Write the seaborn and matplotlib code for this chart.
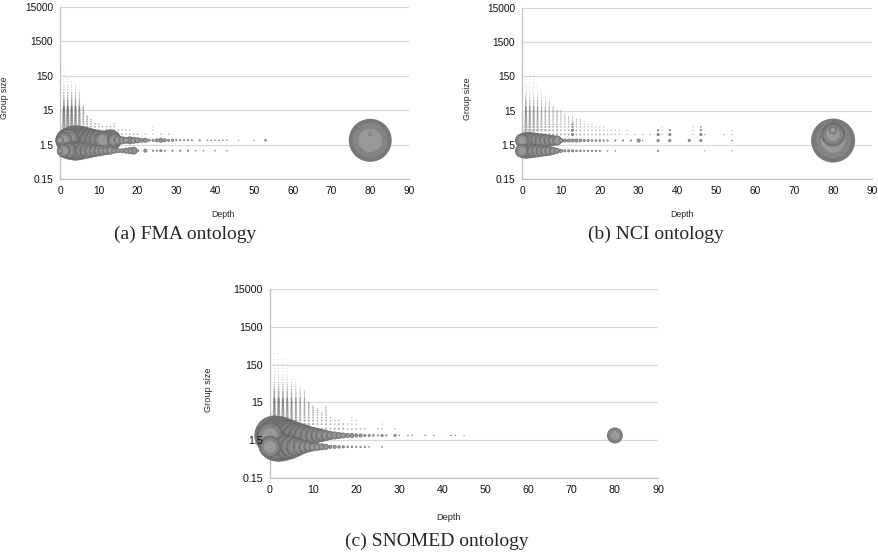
import numpy as np
import pandas as pd
import seaborn as sns
import matplotlib.pyplot as plt
from matplotlib.ticker import NullLocator

# =========================================
# DATA
# bubble area ~ number of groups
# =========================================

# ---- FMA ----
fma_row2_depth = [0, 1, 2, 3, 4, 5, 6, 7, 8, 9, 10, 11, 12, 13, 14, 15, 16, 17, 18, 19, 20, 21, 22, 23, 24,
                  25, 26, 27, 28, 29, 30, 31, 32, 33, 34, 36, 38, 39, 40, 41, 42, 43, 46, 50, 53, 80]
fma_row2_count = [64, 300, 600, 800, 900, 860, 760, 660, 560, 480, 420, 320, 400, 480, 200, 100, 64, 49, 64,
                  49, 36, 25, 25, 9, 9, 16, 25, 16, 9, 9, 4, 4, 4, 4, 4, 4, 2, 2, 2, 2, 2, 2, 1, 1, 6, 1850]
fma_row1_depth = [0, 1, 2, 3, 4, 5, 6, 7, 8, 9, 10, 11, 12, 13, 14, 15, 16, 17, 18, 19, 20, 22, 24, 25, 26,
                  27, 29, 31, 33, 35, 37, 40, 43]
fma_row1_count = [36, 200, 300, 360, 400, 360, 300, 250, 200, 160, 130, 100, 80, 64, 36, 25, 25, 36, 49, 64,
                  9, 16, 4, 4, 9, 4, 4, 4, 4, 2, 2, 2, 2]
fma_extra_depth = [80, 80]
fma_extra_size = [3, 4]
fma_extra_count = [16, 1]
fma_streak_depth = [0, 1, 2, 3, 4, 5, 6, 7, 8, 9, 10, 11, 12, 13, 14, 15, 16, 17, 18, 19, 20, 22, 24, 26, 28]
fma_streak_top = [200, 200, 130, 100, 80, 60, 20, 10, 8, 6, 6, 5, 5, 5, 6, 4, 4, 4, 4, 3, 3, 3, 5, 3, 3]
fma_streak_weight = [0.6, 1.8, 1.8, 1.7, 1.5, 1.2, 0.6, 0.5, 0.4, 0.4, 0.3, 0.3, 0.3, 0.3, 0.3, 0.2, 0.2,
                     0.2, 0.2, 0.2, 0.2, 0.15, 0.15, 0.15, 0.15]

# ---- NCI ----
nci_row2_depth = [0, 1, 2, 3, 4, 5, 6, 7, 8, 9, 10, 11, 12, 13, 14, 15, 16, 17, 18, 19, 20, 21, 22, 24, 26,
                  28, 30, 31, 35, 38, 43, 46, 54, 80]
nci_row2_count = [200, 290, 290, 260, 220, 200, 170, 140, 120, 100, 25, 16, 16, 16, 16, 12, 9, 9, 6, 6, 6, 4,
                  4, 4, 4, 4, 16, 2, 9, 9, 9, 9, 2, 1940]
nci_row1_depth = [0, 1, 2, 3, 4, 5, 6, 7, 8, 9, 10, 11, 12, 13, 14, 15, 16, 17, 18, 19, 20, 22, 24, 35, 47, 54]
nci_row1_count = [200, 260, 220, 200, 170, 140, 120, 100, 64, 36, 16, 9, 9, 9, 6, 6, 4, 4, 4, 4, 4, 2, 2, 4, 1, 1]
nci_extra_depth = [80, 80, 80, 13, 13, 13, 13, 35, 35, 38, 38, 46, 46, 46]
nci_extra_size = [3, 4, 5, 3, 4, 5, 6, 3, 4, 3, 4, 3, 4, 5]
nci_extra_count = [580, 64, 4, 9, 9, 4, 4, 9, 4, 9, 4, 9, 4, 2]
nci_streak_depth = [0, 1, 2, 3, 4, 5, 6, 7, 8, 9, 10, 11, 12, 13, 14, 15, 16, 17, 18, 19, 20, 21, 22, 23,
                    24, 25, 27, 29, 31, 33, 36, 44, 47, 52, 54]
nci_streak_top = [1000, 600, 200, 150, 100, 60, 40, 30, 20, 15, 15, 12, 10, 10, 8, 8, 7, 6, 6, 5, 5, 5, 4, 4,
                  4, 4, 4, 3, 3, 3, 5, 5, 3, 3, 4]
nci_streak_weight = [1.0, 1.2, 1.0, 0.9, 0.8, 0.6, 0.5, 0.5, 0.4, 0.4, 0.3, 0.3, 0.3, 0.3, 0.3, 0.3, 0.2,
                     0.2, 0.2, 0.2, 0.2, 0.2, 0.15, 0.15, 0.15, 0.15, 0.15, 0.15, 0.15, 0.15, 0.15, 0.15,
                     0.15, 0.15, 0.15]

# ---- SNOMED ----
sno_row2_depth = [0, 1, 2, 3, 4, 5, 6, 7, 8, 9, 10, 11, 12, 13, 14, 15, 16, 17, 18, 19, 20, 21, 22, 23, 24,
                  25, 26, 27, 29, 30, 32, 33, 36, 38, 42, 43, 45, 80]
sno_row2_count = [780, 1600, 1500, 1300, 1100, 900, 730, 580, 480, 360, 290, 220, 170, 120, 81, 64, 49, 36,
                  25, 25, 16, 16, 9, 9, 6, 4, 9, 4, 9, 2, 2, 2, 2, 2, 2, 2, 1, 256]
sno_row1_depth = [0, 1, 2, 3, 4, 5, 6, 7, 8, 9, 10, 11, 12, 13, 14, 15, 16, 17, 18, 19, 20, 21, 22, 23, 26]
sno_row1_count = [500, 800, 900, 820, 700, 560, 400, 260, 170, 120, 81, 64, 49, 36, 16, 16, 12, 9, 6, 6,
                  4, 4, 4, 2, 2]
sno_extra_depth = [80]
sno_extra_size = [3]
sno_extra_count = [1]
sno_streak_depth = [0, 1, 2, 3, 4, 5, 6, 7, 8, 9, 10, 11, 12, 13, 14, 15, 16, 17, 18, 19, 20, 21, 22, 25,
                    26, 29]
sno_streak_top = [100, 700, 400, 200, 250, 60, 50, 40, 30, 15, 12, 10, 8, 12, 6, 5, 5, 4, 4, 6, 5, 3, 3, 3,
                  4, 3]
sno_streak_weight = [1.0, 1.8, 1.8, 1.6, 1.4, 1.2, 1.0, 0.8, 0.7, 0.6, 0.5, 0.4, 0.4, 0.4, 0.3, 0.3, 0.3,
                     0.3, 0.2, 0.2, 0.2, 0.2, 0.2, 0.15, 0.15, 0.15]

# group sizes seen in the thin vertical streaks and their typical dot area
streak_sizes = [3, 4, 5, 6, 7, 8, 9, 10, 11, 12, 13, 14, 15, 16, 17, 18, 19, 20, 22, 24, 26, 28, 30, 33, 36,
                40, 45, 50, 60, 70, 80, 100, 120, 150, 200, 300, 450, 700, 1000]
streak_counts = [14, 11, 9, 7.5, 6.5, 6, 5.5, 5, 4.6, 4.3, 4, 3.7, 3.4, 3.1, 2.9, 2.7, 2.5, 2.3, 2.1, 1.9,
                 1.7, 1.6, 1.5, 1.3, 1.2, 1.1, 1, 0.9, 0.75, 0.65, 0.6, 0.5, 0.45, 0.4, 0.35, 0.3, 0.25,
                 0.25, 0.25]

y_ticks = [0.15, 1.5, 15, 150, 1500, 15000]
y_tick_labels = ['0.15', '1.5', '15', '150', '1500', '15000']
x_ticks = [0, 10, 20, 30, 40, 50, 60, 70, 80, 90]


# =========================================
# HELPERS
# =========================================

PT_PER_COUNT = 0.518   # marker area (pt^2) per group
layer_colors = {'rim': '#6e6e6e', 'mid': '#858585', 'core': '#9a9a9a'}


def bubble_frame(row2_depth, row2_count, row1_depth, row1_count, ex_depth, ex_size, ex_count):
    df = pd.concat([
        pd.DataFrame({'depth': row2_depth, 'group_size': 2, 'n_groups': row2_count}),
        pd.DataFrame({'depth': row1_depth, 'group_size': 1, 'n_groups': row1_count}),
        pd.DataFrame({'depth': ex_depth, 'group_size': ex_size, 'n_groups': ex_count}),
    ])
    df = df.sort_values('n_groups', ascending=False, kind='stable').reset_index(drop=True)
    parts = []
    for k, (name, scale) in enumerate([('rim', 1.0), ('mid', 0.65), ('core', 0.3)]):
        p = df.copy()
        p['layer'] = name
        p['area'] = p['n_groups'] * scale
        p['order'] = p.index * 3 + k
        parts.append(p)
    return pd.concat(parts).sort_values('order').reset_index(drop=True)


def streak_frame(depths, tops, weights):
    rows = []
    for d, top, w in zip(depths, tops, weights):
        for s, c in zip(streak_sizes, streak_counts):
            if s <= top:
                rows.append((d, s, c * w))
    return pd.DataFrame(rows, columns=['depth', 'group_size', 'n_groups'])


def draw_panel(ax, bubbles, streaks, font_scale=1.0):
    # horizontal gridlines sit behind everything
    for t in y_ticks:
        ax.axhline(t, color='#d9d9d9', linewidth=0.9, zorder=0.5)

    sns.scatterplot(data=streaks, x='depth', y='group_size', size='n_groups',
                    sizes=(0, PT_PER_COUNT * 2000), size_norm=(0, 2000),
                    color='#505050', alpha=0.45, linewidth=0, legend=False, ax=ax, zorder=2)
    sns.scatterplot(data=bubbles, x='depth', y='group_size', hue='layer', palette=layer_colors,
                    size='area', sizes=(0, PT_PER_COUNT * 2000), size_norm=(0, 2000),
                    linewidth=0, alpha=0.92, legend=False, ax=ax, zorder=3, clip_on=False)

    ax.set_yscale('log')
    ax.set_xlim(0, 90)
    ax.set_ylim(0.15, 15000)
    ax.set_yticks(y_ticks)
    ax.set_yticklabels(y_tick_labels)
    ax.yaxis.set_minor_locator(NullLocator())
    ax.set_xticks(x_ticks)
    ax.tick_params(axis='both', labelsize=7.3 * font_scale, length=3, width=0.8,
                   color='#bfbfbf', labelcolor='#111111', pad=2)
    ax.grid(False)
    ax.yaxis.set_zorder(5)   # tick labels drawn over the bubbles, as in the original
    for side in ['top', 'right']:
        ax.spines[side].set_visible(False)
    for side in ['left', 'bottom']:
        ax.spines[side].set_color('#bfbfbf')
        ax.spines[side].set_linewidth(0.9)
    ax.set_xlabel('Depth', fontsize=6.3 * font_scale)
    ax.set_ylabel('Group size', fontsize=6.3 * font_scale)
    ax.set_facecolor('white')


# =========================================
# PLOT
# =========================================

sns.set_style('white')
plt.rcParams['font.family'] = ['Liberation Sans', 'DejaVu Sans']

fig = plt.figure(figsize=(8.79, 5.58), dpi=100)
W, H = 879, 558

ax_a = fig.add_axes([60 / W, 1 - 179 / H, 349 / W, 172 / H])
ax_b = fig.add_axes([522 / W, 1 - 179 / H, 350 / W, 171 / H])
ax_c = fig.add_axes([270 / W, 1 - 478 / H, 388 / W, 189 / H])

draw_panel(ax_a,
           bubble_frame(fma_row2_depth, fma_row2_count, fma_row1_depth, fma_row1_count,
                        fma_extra_depth, fma_extra_size, fma_extra_count),
           streak_frame(fma_streak_depth, fma_streak_top, fma_streak_weight))
draw_panel(ax_b,
           bubble_frame(nci_row2_depth, nci_row2_count, nci_row1_depth, nci_row1_count,
                        nci_extra_depth, nci_extra_size, nci_extra_count),
           streak_frame(nci_streak_depth, nci_streak_top, nci_streak_weight))
draw_panel(ax_c,
           bubble_frame(sno_row2_depth, sno_row2_count, sno_row1_depth, sno_row1_count,
                        sno_extra_depth, sno_extra_size, sno_extra_count),
           streak_frame(sno_streak_depth, sno_streak_top, sno_streak_weight),
           font_scale=1.05)

ax_a.yaxis.set_label_coords(-0.146, 0.47)
ax_a.xaxis.set_label_coords(0.467, -0.18)
ax_b.yaxis.set_label_coords(-0.143, 0.47)
ax_b.xaxis.set_label_coords(0.457, -0.18)
ax_c.yaxis.set_label_coords(-0.147, 0.466)
ax_c.xaxis.set_label_coords(0.459, -0.185)

caption_font = dict(family=['Liberation Serif', 'DejaVu Serif'], fontsize=14, ha='center', va='center')
fig.text(185 / W, 1 - 234 / H, '(a) FMA ontology', **caption_font)
fig.text(656 / W, 1 - 234 / H, '(b) NCI ontology', **caption_font)
fig.text(437 / W, 1 - 541 / H, '(c) SNOMED ontology', **caption_font)

fig.savefig('out.png', dpi=100)
